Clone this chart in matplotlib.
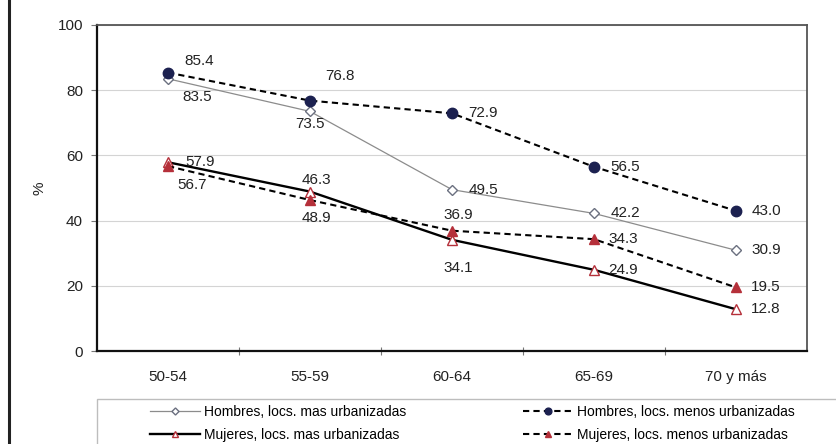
import numpy as np
import matplotlib.pyplot as plt
from matplotlib.patches import Rectangle
from matplotlib.lines import Line2D

plt.rcParams['font.family'] = ['Liberation Sans', 'DejaVu Sans']

grupos = ["50-54", "55-59", "60-64", "65-69", "70 y más"]
hombres_mas = [83.5, 73.5, 49.5, 42.2, 30.9]
hombres_menos = [85.4, 76.8, 72.9, 56.5, 43.0]
mujeres_mas = [57.9, 48.9, 34.1, 24.9, 12.8]
mujeres_menos = [56.7, 46.3, 36.9, 34.3, 19.5]

# desplazamientos (px) de cada etiqueta respecto a su punto
off_h_mas = [(29, -18), (0, -13), (31, 0), (31, 0), (30, 0)]
off_h_menos = [(31, 12), (30, 25), (31, 0), (31, 0), (30, 0)]
off_m_mas = [(32, 0), (6, -26), (6, -28), (29, 0), (30, 0)]
off_m_menos = [(24, -19), (6, 20), (6, 16), (29, 0), (30, 0)]

navy = "#1c2150"
rojo = "#b5303a"
fs = 11

fig = plt.figure(figsize=(8.37, 4.44), dpi=100)
ax = fig.add_axes([97 / 837, 1 - 351 / 444, 710 / 837, 326 / 444])

x = np.arange(len(grupos))

ax.plot(x, hombres_mas, color="#8c8c8c", lw=0.9, marker="D", ms=5.5,
        mfc="white", mec="#6b7080", mew=1.0, label="Hombres, locs. mas urbanizadas", zorder=3)
ax.plot(x, mujeres_mas, color="black", lw=1.7, marker="^", ms=7,
        mfc="white", mec=rojo, mew=1.0, label="Mujeres, locs. mas urbanizadas", zorder=3)
ax.plot(x, hombres_menos, color="black", lw=1.5, ls=(0, (3, 2)), marker="o", ms=7.5,
        mfc=navy, mec=navy, label="Hombres, locs. menos urbanizadas", zorder=4)
ax.plot(x, mujeres_menos, color="black", lw=1.5, ls=(0, (3, 2)), marker="^", ms=7.5,
        mfc=rojo, mec=rojo, label="Mujeres, locs. menos urbanizadas", zorder=4)

for serie, offs in [(hombres_mas, off_h_mas), (hombres_menos, off_h_menos),
                    (mujeres_mas, off_m_mas), (mujeres_menos, off_m_menos)]:
    for i, (v, (dx, dy)) in enumerate(zip(serie, offs)):
        ax.annotate(f"{v:.1f}", (x[i], v), xytext=(dx * 0.72, dy * 0.72),
                    textcoords="offset points", ha="center", va="center",
                    fontsize=fs, color="#222222", zorder=5)

ax.set_xlim(-0.5, len(grupos) - 0.5)
ax.set_ylim(0, 100)
ax.set_yticks(np.arange(0, 101, 20))
ax.yaxis.grid(True, color="#d4d4d4", lw=0.8)
ax.set_axisbelow(True)

ax.set_xticks(np.arange(0.5, len(grupos) - 1, 1))
ax.set_xticklabels([])
ax.set_xticks(x, minor=True)
ax.set_xticklabels(grupos, minor=True)
ax.tick_params(axis="x", which="major", direction="inout", length=6, color="#777777")
ax.tick_params(axis="x", which="minor", length=0, pad=14, labelsize=fs, labelcolor="#222222")
ax.tick_params(axis="y", direction="out", length=4, color="#777777", pad=6,
               labelsize=fs, labelcolor="#222222")

for lado in ["left", "bottom"]:
    ax.spines[lado].set_color("#111111")
    ax.spines[lado].set_linewidth(1.6)
for lado in ["top", "right"]:
    ax.spines[lado].set_color("#555555")
    ax.spines[lado].set_linewidth(1.3)

ax.set_ylabel("%", fontsize=fs, color="#222222", labelpad=8)

# caja de la leyenda, cortada por el borde de la figura
fig.patches.append(Rectangle((97 / 837, -0.05), 0.95, (444 - 399) / 444 + 0.05,
                             transform=fig.transFigure, fill=False,
                             ec="#bdbdbd", lw=1.0))
fig.legend(loc="upper left", bbox_to_anchor=(150 / 837, 1 - 405 / 444), ncol=2,
           frameon=False, fontsize=10.0, handlelength=3.6, handletextpad=0.3,
           columnspacing=8.4, labelspacing=0.65, borderaxespad=0, borderpad=0,
           markerscale=0.65)

# línea vertical del margen izquierdo
fig.add_artist(Line2D([9 / 837, 9 / 837], [0, 1], transform=fig.transFigure,
                      color="#222222", lw=2.2))

fig.savefig("out.png", dpi=100)
